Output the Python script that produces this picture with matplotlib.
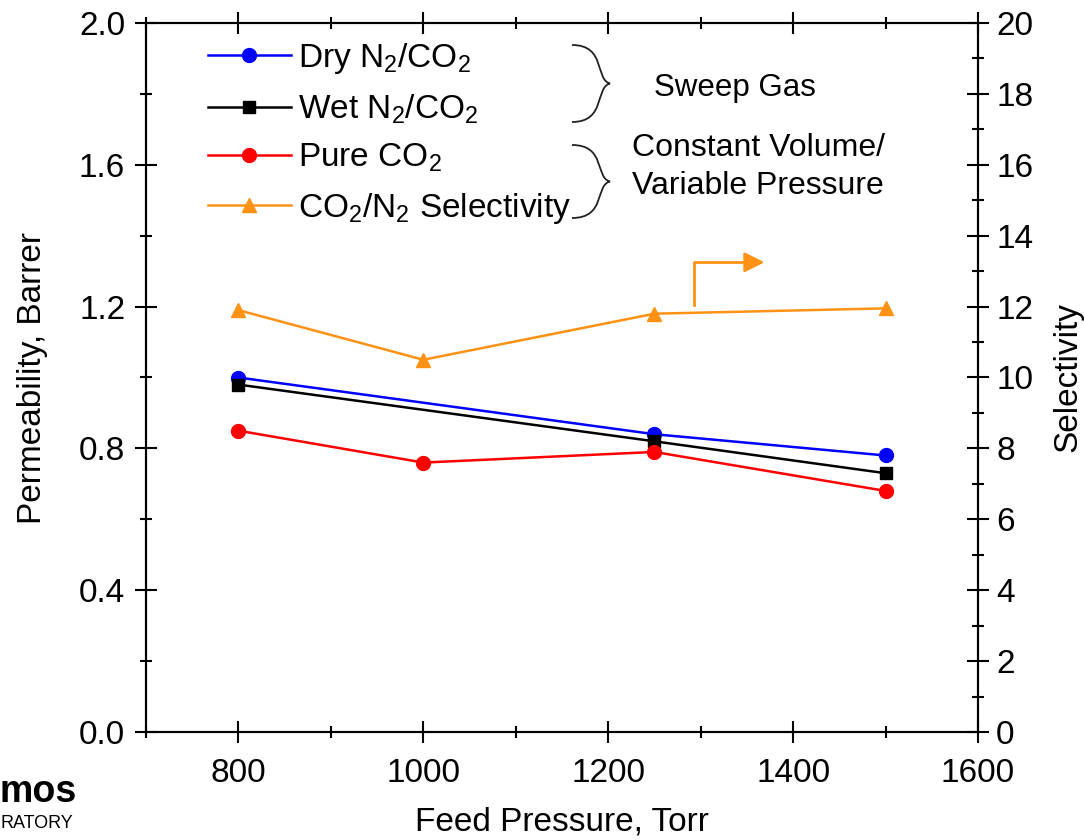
import numpy as np
import matplotlib
matplotlib.use("Agg")
import matplotlib.pyplot as plt
from matplotlib.path import Path
from matplotlib.patches import PathPatch
from matplotlib.ticker import MultipleLocator

plt.rcParams['font.family'] = ['Liberation Sans', 'DejaVu Sans']
plt.rcParams['mathtext.fontset'] = 'custom'
plt.rcParams['mathtext.rm'] = 'Liberation Sans'
plt.rcParams['mathtext.default'] = 'regular'

# permeability data (Barrer) vs feed pressure (Torr)
p_dry = [800, 1250, 1500]
dry_n2co2 = [1.00, 0.84, 0.78]
p_wet = [800, 1250, 1500]
wet_n2co2 = [0.98, 0.82, 0.73]
p_pure = [800, 1000, 1250, 1500]
pure_co2 = [0.85, 0.76, 0.79, 0.68]
# CO2/N2 selectivity (right axis)
p_sel = [800, 1000, 1250, 1500]
selectivity = [11.9, 10.5, 11.8, 11.95]

orange = '#ff9214'
W, H = 1084, 840
fs = 24

fig = plt.figure(figsize=(W / 100, H / 100), dpi=100)
ax = fig.add_axes([146 / W, 1 - 732 / H, (978 - 146) / W, (732 - 23) / H])
ax2 = ax.twinx()

l1, = ax.plot(p_dry, dry_n2co2, '-o', color='#0000ff', lw=1.8, ms=10, label='Dry N$_2$/CO$_2$')
l2, = ax.plot(p_wet, wet_n2co2, '-s', color='black', lw=1.8, ms=8.5, label='Wet N$_2$/CO$_2$')
l3, = ax.plot(p_pure, pure_co2, '-o', color='#ff0000', lw=1.8, ms=10, label='Pure CO$_2$')
l4, = ax2.plot(p_sel, selectivity, '-^', color=orange, lw=1.8, ms=10, label='CO$_2$/N$_2$ Selectivity')

ax.set_xlim(700, 1600)
ax.set_ylim(0, 2.0)
ax2.set_ylim(0, 20)
ax.xaxis.set_major_locator(MultipleLocator(200))
ax.xaxis.set_minor_locator(MultipleLocator(100))
ax.yaxis.set_major_locator(MultipleLocator(0.4))
ax.yaxis.set_minor_locator(MultipleLocator(0.2))
ax.yaxis.set_major_formatter(matplotlib.ticker.FormatStrFormatter('%.1f'))
ax2.yaxis.set_major_locator(MultipleLocator(2))
ax2.yaxis.set_minor_locator(MultipleLocator(1))

for a in (ax, ax2):
    for s in a.spines.values():
        s.set_linewidth(1.5)
ax.tick_params(which='both', direction='inout', top=True, right=False, labelsize=fs, width=1.5)
ax.tick_params(which='major', length=16, pad=7)
ax.tick_params(axis='x', which='major', pad=11)
ax.tick_params(which='minor', length=9)
ax2.tick_params(which='both', direction='inout', labelsize=fs, width=1.5)
ax2.tick_params(which='major', length=16, pad=5)
ax2.tick_params(which='minor', length=9)

ax.set_xlabel('Feed Pressure, Torr', fontsize=fs, labelpad=12)
ax.set_ylabel('Permeability, Barrer', fontsize=fs, labelpad=22)
ax2.set_ylabel('Selectivity', fontsize=fs, labelpad=14)

ax.legend(handles=[l1, l2, l3, l4], loc='upper left', bbox_to_anchor=(0.05, 1.003),
          frameon=False, fontsize=fs, handlelength=2.5, handletextpad=0.2,
          labelspacing=0.49, borderaxespad=0.2)

# curly braces grouping the legend entries
def brace(x0, y0, y1, w):
    ym = (y0 + y1) / 2
    verts = [(x0, y0), (x0 + w * 0.9, y0), (x0 + w * 0.6, ym - (ym - y0) * 0.1), (x0 + w, ym),
             (x0 + w * 0.6, ym + (y1 - ym) * 0.1), (x0 + w * 0.9, y1), (x0, y1)]
    codes = [Path.MOVETO, Path.CURVE4, Path.CURVE4, Path.CURVE4, Path.CURVE4, Path.CURVE4, Path.CURVE4]
    pts = [(x / W, 1 - y / H) for x, y in verts]
    fig.add_artist(PathPatch(Path(pts, codes), fill=False, lw=1.3, ec='#222222',
                             transform=fig.transFigure))

brace(572, 45, 122, 38)
brace(572, 145, 218, 38)

fig.text(735 / W, 1 - 88 / H, 'Sweep Gas', fontsize=22.5, ha='center', va='center')
fig.text(632 / W, 1 - 148 / H, 'Constant Volume/', fontsize=23, ha='left', va='center')
fig.text(632 / W, 1 - 186 / H, 'Variable Pressure', fontsize=23, ha='left', va='center')

# arrow pointing at the selectivity axis
ax2.plot([1293, 1293, 1350], [12.05, 13.25, 13.25], color=orange, lw=2)
ax2.annotate('', xy=(1372, 13.25), xytext=(1345, 13.25),
             arrowprops=dict(arrowstyle='-|>', color=orange, lw=2, mutation_scale=30))

# logo fragment in the corner
fig.text(0, 1 - 792 / H, 'mos', fontsize=27, fontweight='bold', ha='left', va='center')
fig.text(1 / W, 1 - 823 / H, 'RATORY', fontsize=13, ha='left', va='center')

fig.savefig('out.png', dpi=100)
